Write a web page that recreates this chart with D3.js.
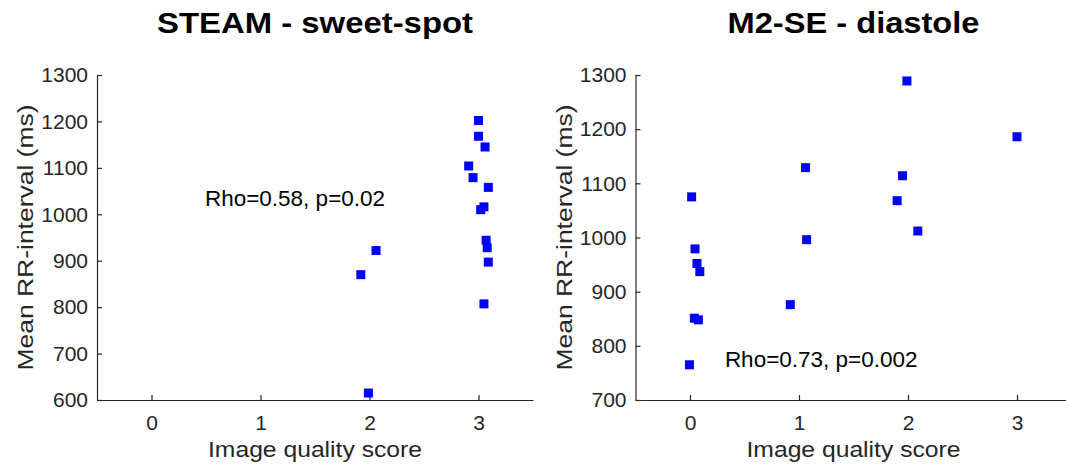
<!DOCTYPE html>
<html>
<head>
  <meta charset="utf-8">
  <title>RR-interval vs image quality</title>
  <script src="https://d3js.org/d3.v7.min.js"></script>
  <style>
    body { margin: 0; background: #fff; }
    svg { display: block; font-family: "Liberation Sans", Arial, Helvetica, sans-serif; }
    .axis path, .axis line { stroke: #262626; stroke-width: 1.2; }
    .axis text { fill: #262626; font-size: 21px; font-family: "Liberation Sans", Arial, sans-serif; }
  </style>
</head>
<body>
  <div id="chart"></div>
  <script>
    // STEAM - sweet-spot
    var steamScore = [3.0, 3.0, 3.06, 2.91, 2.95, 3.09, 3.02, 3.05, 3.07, 3.08, 3.09, 3.05, 2.06, 1.92, 1.99]
    var steamRR    = [1202, 1168, 1145, 1104, 1079, 1058, 1010, 1016, 944, 928, 897, 807, 922, 870, 615]

    // M2-SE - diastole
    var m2seScore = [1.99, 3.0, 1.06, 1.95, 0.015, 1.90, 2.09, 1.07, 0.046, 0.064, 0.09, 0.92, 0.04, 0.077, -0.005]
    var m2seRR    = [1289, 1186, 1129, 1114, 1075, 1068, 1012, 996, 979, 952, 937, 876, 851, 848, 765]

    var xTicks = [0, 1, 2, 3]
    var steamYTicks = [600, 700, 800, 900, 1000, 1100, 1200, 1300]
    var m2seYTicks = [700, 800, 900, 1000, 1100, 1200, 1300]

    var W = 1066, H = 471
    var plotTop = 75, plotBottom = 400

    var svg = d3.select("#chart").append("svg")
      .attr("width", W)
      .attr("height", H)

    var panels = [
      { title: "STEAM - sweet-spot", titleLen: 316, xs: steamScore, ys: steamRR, yDomain: [600, 1300], yTicks: steamYTicks,
        left: 97, right: 533, note: "Rho=0.58, p=0.02", noteX: 0.49, noteY: 1018, labelX: 33 },
      { title: "M2-SE - diastole", titleLen: 252, xs: m2seScore, ys: m2seRR, yDomain: [700, 1300], yTicks: m2seYTicks,
        left: 635.5, right: 1071.5, note: "Rho=0.73, p=0.002", noteX: 0.32, noteY: 761, labelX: 572 }
    ]

    panels.forEach(function(p) {
      var x = d3.scaleLinear().domain([-0.5, 3.5]).range([p.left, p.right])
      var y = d3.scaleLinear().domain(p.yDomain).range([plotBottom, plotTop])

      svg.append("g")
        .attr("class", "axis")
        .attr("transform", "translate(0," + plotBottom + ")")
        .call(d3.axisBottom(x).tickValues(xTicks).tickSizeInner(-5).tickSizeOuter(0)
          .tickPadding(15).tickFormat(d3.format("d")))

      svg.append("g")
        .attr("class", "axis")
        .attr("transform", "translate(" + p.left + ",0)")
        .call(d3.axisLeft(y).tickValues(p.yTicks).tickSizeInner(-5).tickSizeOuter(0)
          .tickPadding(9).tickFormat(d3.format("d")))

      var pts = p.xs.map(function(d, i) { return { x: d, y: p.ys[i] } })
      svg.append("g").selectAll("rect")
        .data(pts)
        .enter().append("rect")
          .attr("x", function(d) { return x(d.x) - 4.5 })
          .attr("y", function(d) { return y(d.y) - 4.5 })
          .attr("width", 9)
          .attr("height", 9)
          .attr("fill", "#0000ff")

      svg.append("text")
        .attr("x", x(p.noteX))
        .attr("y", y(p.noteY))
        .style("font-size", "22.5px")
        .attr("fill", "#000")
        .text(p.note)

      svg.append("text")
        .attr("x", (p.left + p.right) / 2)
        .attr("y", 33)
        .attr("text-anchor", "middle")
        .attr("textLength", p.titleLen)
        .attr("lengthAdjust", "spacingAndGlyphs")
        .style("font-size", "29px")
        .style("font-weight", "bold")
        .attr("fill", "#000")
        .text(p.title)

      svg.append("text")
        .attr("x", (p.left + p.right) / 2)
        .attr("y", 457)
        .attr("text-anchor", "middle")
        .attr("textLength", 214)
        .attr("lengthAdjust", "spacingAndGlyphs")
        .style("font-size", "22.5px")
        .attr("fill", "#262626")
        .text("Image quality score")

      svg.append("text")
        .attr("transform", "translate(" + p.labelX + "," + ((plotTop + plotBottom) / 2) + ") rotate(-90)")
        .attr("text-anchor", "middle")
        .attr("textLength", 266)
        .attr("lengthAdjust", "spacingAndGlyphs")
        .style("font-size", "22.5px")
        .attr("fill", "#262626")
        .text("Mean RR-interval (ms)")
    })
  </script>
</body>
</html>
